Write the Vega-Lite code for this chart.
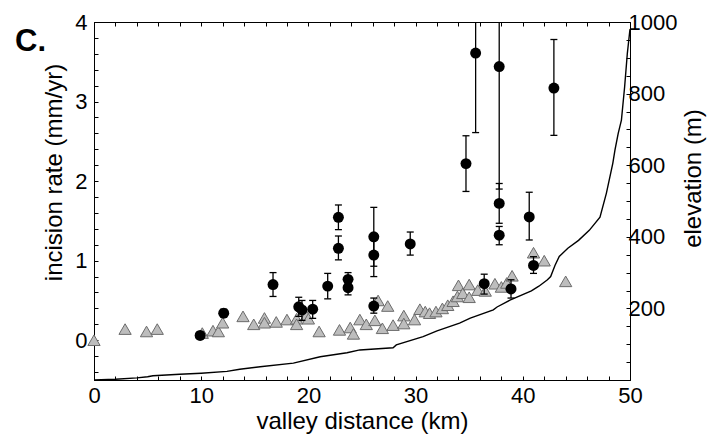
{
  "$schema": "https://vega.github.io/schema/vega-lite/v6.json",
  "width": 536,
  "height": 358,
  "autosize": {"type": "none"},
  "padding": {"left": 94, "top": 22, "right": 89, "bottom": 59},
  "background": "white",
  "title": {"text": "C.", "anchor": "start", "frame": "group", "orient": "top", "dx": -79, "dy": 71, "offset": 0, "baseline": "alphabetic", "fontSize": 31, "font": "Liberation Sans", "fontWeight": "bold", "color": "black"},
  "config": {
    "font": "Liberation Sans",
    "view": {"stroke": "black", "strokeWidth": 1},
    "axis": {
      "grid": false,
      "domainColor": "black",
      "domainWidth": 1,
      "tickColor": "black",
      "tickWidth": 1,
      "tickSize": -4,
      "labelColor": "black",
      "labelFont": "Liberation Sans",
      "labelFontSize": 22,
      "labelOverlap": false,
      "labelFlush": false,
      "labelBound": false,
      "titleColor": "black",
      "titleFont": "Liberation Sans",
      "titleFontSize": 24,
      "titleFontWeight": "normal"
    }
  },
  "datasets": {
    "elev": [
      {"d": 0, "elev": 0}, {"d": 2, "elev": 2}, {"d": 4, "elev": 6}, {"d": 5, "elev": 9}, {"d": 5.5, "elev": 12},
      {"d": 8, "elev": 16}, {"d": 10, "elev": 19}, {"d": 12.4, "elev": 24}, {"d": 13.6, "elev": 30}, {"d": 15.5, "elev": 37},
      {"d": 18.6, "elev": 47}, {"d": 21.1, "elev": 65}, {"d": 23.6, "elev": 76}, {"d": 24.8, "elev": 84}, {"d": 27.9, "elev": 90},
      {"d": 28.2, "elev": 98}, {"d": 30.7, "elev": 121}, {"d": 32.0, "elev": 137}, {"d": 34.1, "elev": 159}, {"d": 35.1, "elev": 173},
      {"d": 37.25, "elev": 196}, {"d": 37.6, "elev": 204}, {"d": 38.8, "elev": 223}, {"d": 40.8, "elev": 249}, {"d": 41.5, "elev": 262},
      {"d": 42.3, "elev": 280}, {"d": 42.6, "elev": 289}, {"d": 43.0, "elev": 320}, {"d": 43.4, "elev": 345}, {"d": 44.2, "elev": 368},
      {"d": 45.2, "elev": 390}, {"d": 46.2, "elev": 418}, {"d": 47.2, "elev": 455}, {"d": 47.8, "elev": 522}, {"d": 48.4, "elev": 606},
      {"d": 48.6, "elev": 643}, {"d": 48.9, "elev": 689}, {"d": 49.2, "elev": 726}, {"d": 49.5, "elev": 819}, {"d": 49.75, "elev": 912},
      {"d": 50, "elev": 980}
    ],
    "tri": [
      {"d": 0.0, "rate": 0.0}, {"d": 2.9, "rate": 0.14}, {"d": 4.9, "rate": 0.11}, {"d": 5.9, "rate": 0.14},
      {"d": 10.1, "rate": 0.09}, {"d": 11.1, "rate": 0.12}, {"d": 11.6, "rate": 0.11}, {"d": 12.0, "rate": 0.22},
      {"d": 13.9, "rate": 0.30}, {"d": 14.9, "rate": 0.20}, {"d": 15.9, "rate": 0.28}, {"d": 15.9, "rate": 0.22},
      {"d": 17.0, "rate": 0.23}, {"d": 18.0, "rate": 0.26}, {"d": 18.9, "rate": 0.27}, {"d": 18.9, "rate": 0.20},
      {"d": 19.8, "rate": 0.31}, {"d": 20.0, "rate": 0.27}, {"d": 21.0, "rate": 0.11}, {"d": 22.9, "rate": 0.13},
      {"d": 23.9, "rate": 0.16}, {"d": 24.2, "rate": 0.08}, {"d": 24.8, "rate": 0.26}, {"d": 25.4, "rate": 0.20},
      {"d": 26.2, "rate": 0.25}, {"d": 26.5, "rate": 0.50}, {"d": 26.9, "rate": 0.15}, {"d": 27.4, "rate": 0.43},
      {"d": 27.9, "rate": 0.19}, {"d": 28.9, "rate": 0.31}, {"d": 28.9, "rate": 0.21}, {"d": 29.9, "rate": 0.26},
      {"d": 30.4, "rate": 0.39}, {"d": 30.9, "rate": 0.36}, {"d": 31.3, "rate": 0.34}, {"d": 31.9, "rate": 0.36},
      {"d": 32.5, "rate": 0.40}, {"d": 33.0, "rate": 0.44}, {"d": 33.5, "rate": 0.49}, {"d": 33.9, "rate": 0.55},
      {"d": 34.0, "rate": 0.69}, {"d": 34.4, "rate": 0.59}, {"d": 35.0, "rate": 0.70}, {"d": 35.0, "rate": 0.54},
      {"d": 35.8, "rate": 0.63}, {"d": 36.5, "rate": 0.62}, {"d": 37.4, "rate": 0.71}, {"d": 38.0, "rate": 0.67},
      {"d": 38.5, "rate": 0.72}, {"d": 39.0, "rate": 0.81}, {"d": 41.0, "rate": 1.10}, {"d": 42.0, "rate": 1.00},
      {"d": 44.0, "rate": 0.74}
    ],
    "circ": [
      {"d": 9.9, "rate": 0.06, "lo": 0.02, "hi": 0.10},
      {"d": 12.1, "rate": 0.34, "lo": 0.29, "hi": 0.39},
      {"d": 16.7, "rate": 0.70, "lo": 0.55, "hi": 0.85},
      {"d": 19.1, "rate": 0.42, "lo": 0.30, "hi": 0.54},
      {"d": 19.4, "rate": 0.38, "lo": 0.25, "hi": 0.50},
      {"d": 20.4, "rate": 0.39, "lo": 0.275, "hi": 0.50},
      {"d": 21.8, "rate": 0.68, "lo": 0.52, "hi": 0.84},
      {"d": 22.8, "rate": 1.155, "lo": 1.01, "hi": 1.31},
      {"d": 22.8, "rate": 1.545, "lo": 1.39, "hi": 1.70},
      {"d": 23.7, "rate": 0.765, "lo": 0.68, "hi": 0.85},
      {"d": 23.7, "rate": 0.66, "lo": 0.57, "hi": 0.75},
      {"d": 26.1, "rate": 1.30, "lo": 0.93, "hi": 1.67},
      {"d": 26.1, "rate": 1.07, "lo": 0.80, "hi": 1.34},
      {"d": 26.1, "rate": 0.43, "lo": 0.34, "hi": 0.53},
      {"d": 29.5, "rate": 1.21, "lo": 1.07, "hi": 1.36},
      {"d": 34.7, "rate": 2.22, "lo": 1.87, "hi": 2.57},
      {"d": 35.6, "rate": 3.61, "lo": 2.61, "hi": 4.61},
      {"d": 37.8, "rate": 3.44, "lo": 1.9, "hi": 5.0},
      {"d": 37.8, "rate": 1.72, "lo": 1.47, "hi": 1.97},
      {"d": 37.8, "rate": 1.32, "lo": 1.20, "hi": 1.43},
      {"d": 36.4, "rate": 0.71, "lo": 0.58, "hi": 0.83},
      {"d": 38.9, "rate": 0.645, "lo": 0.53, "hi": 0.76},
      {"d": 40.6, "rate": 1.55, "lo": 1.26, "hi": 1.86},
      {"d": 41.0, "rate": 0.94, "lo": 0.84, "hi": 1.05},
      {"d": 42.9, "rate": 3.17, "lo": 2.575, "hi": 3.78}
    ]
  },
  "layer": [
    {
      "data": {"name": "elev"},
      "mark": {"type": "line", "color": "black", "strokeWidth": 1.4, "clip": true},
      "encoding": {
        "x": {"field": "d", "type": "quantitative", "scale": {"domain": [0, 50], "nice": false},
          "axis": {"orient": "top", "values": [0,2,4,6,8,10,12,14,16,18,20,22,24,26,28,30,32,34,36,38,40,42,44,46,48,50], "labels": false, "title": null}},
        "y": {"field": "elev", "type": "quantitative", "scale": {"domain": [0, 1000], "nice": false},
          "axis": {"orient": "right", "values": [50,100,150,200,250,300,350,400,450,500,550,600,650,700,750,800,850,900,950,1000],
            "labelExpr": "datum.value % 200 == 0 ? format(datum.value, 'd') : ''", "labelPadding": 2,
            "title": "elevation (m)", "titleAngle": 270, "titlePadding": 29, "titleY": 156, "titleAlign": "center"}}
      }
    },
    {
      "encoding": {
        "x": {"field": "d", "type": "quantitative", "scale": {"domain": [0, 50], "nice": false},
          "axis": {"orient": "bottom", "values": [0,2,4,6,8,10,12,14,16,18,20,22,24,26,28,30,32,34,36,38,40,42,44,46,48,50],
            "labelExpr": "datum.value % 10 == 0 ? datum.label : ''", "labelPadding": 9,
            "title": "valley distance (km)", "titlePadding": 3}},
        "y": {"field": "rate", "type": "quantitative", "scale": {"domain": [-0.5, 4], "nice": false},
          "axis": {"orient": "left", "values": [-0.4,-0.2,0,0.2,0.4,0.6,0.8,1,1.2,1.4,1.6,1.8,2,2.2,2.4,2.6,2.8,3,3.2,3.4,3.6,3.8,4],
            "labelExpr": "abs(datum.value - round(datum.value)) < 0.001 && datum.value >= 0 ? format(datum.value, 'd') : ''",
            "labelPadding": 11, "title": "incision rate (mm/yr)", "titlePadding": 8, "titleY": 150, "titleAlign": "center"}}
      },
      "layer": [
        {
          "data": {"name": "tri"},
          "mark": {"type": "point", "shape": "triangle-up", "filled": true, "size": 150, "fill": "#bdbdbd", "stroke": "#6b6b6b", "strokeWidth": 1, "opacity": 1}
        },
        {
          "data": {"name": "circ"},
          "mark": {"type": "rule", "color": "black", "strokeWidth": 1.3, "clip": true},
          "encoding": {"y": {"field": "lo", "type": "quantitative"}, "y2": {"field": "hi"}}
        },
        {
          "data": {"name": "circ"},
          "mark": {"type": "tick", "orient": "horizontal", "size": 7, "thickness": 1.3, "color": "black", "opacity": 1, "clip": true},
          "encoding": {"y": {"field": "lo", "type": "quantitative"}}
        },
        {
          "data": {"name": "circ"},
          "mark": {"type": "tick", "orient": "horizontal", "size": 7, "thickness": 1.3, "color": "black", "opacity": 1, "clip": true},
          "encoding": {"y": {"field": "hi", "type": "quantitative"}}
        },
        {
          "data": {"name": "circ"},
          "mark": {"type": "point", "shape": "circle", "filled": true, "size": 120, "color": "black", "opacity": 1}
        }
      ]
    }
  ],
  "resolve": {"scale": {"y": "independent"}, "axis": {"x": "independent"}}
}
